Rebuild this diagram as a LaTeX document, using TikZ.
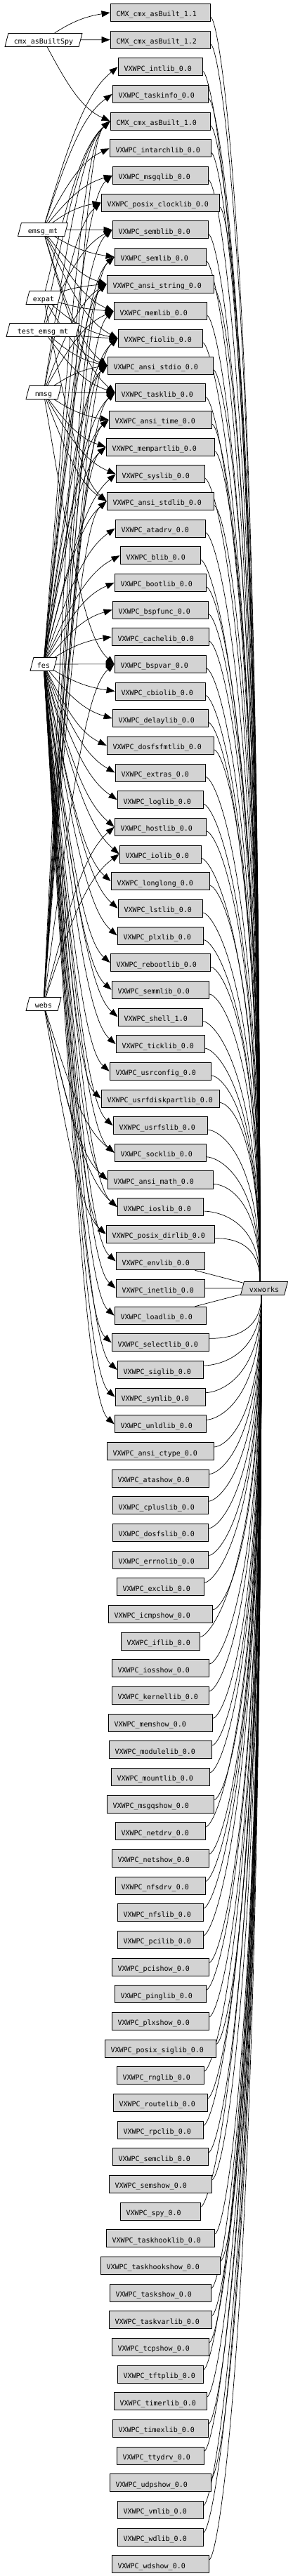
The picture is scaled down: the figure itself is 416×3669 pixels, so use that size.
\documentclass[tikz,border=0pt]{standalone}
\usepackage{fontspec}
\newfontfamily\pkgfont{DejaVu Sans Mono}
\usetikzlibrary{shapes.geometric, arrows.meta, calc}
\definecolor{boxgray}{RGB}{211,211,211}
\pgfdeclarelayer{back}
\pgfsetlayers{back,main}

\begin{document}
\begin{tikzpicture}[x=1pt, y=1pt,
  pkg/.style={draw, fill=boxgray, line width=0.8pt, minimum height=25pt, inner xsep=8.5pt, inner ysep=0pt,
    align=left, font=\pkgfont\fontsize{10}{12}\selectfont, text height=12pt, text depth=0pt},
  prog/.style={draw, fill=white, line width=0.8pt, trapezium, trapezium left angle=66, trapezium right angle=114,
    trapezium stretches body, minimum height=19pt, inner xsep=1pt, inner ysep=0pt,
    font=\pkgfont\fontsize{10}{12}\selectfont, text height=11pt, text depth=0pt},
  dep/.style={line width=0.7pt, -{Triangle[length=12pt,width=9pt]}},
  tovx/.style={line width=0.7pt}]
\useasboundingbox (0,0) rectangle (416,-3669);

% Programs (left) and the kernel (right)
\node[prog, minimum width=110pt] (cmxspy) at (62,-57) {cmx\_asBuiltSpy};
\node[prog, minimum width=71pt] (emsgmt) at (61,-327) {emsg\_mt};
\node[prog, minimum width=50pt] (expat) at (62,-424) {expat};
\node[prog, minimum width=104pt] (testemsg) at (61,-470) {test\_emsg\_mt};
\node[prog, minimum width=50pt] (nmsg) at (62,-559) {nmsg};
\node[prog, minimum width=38pt] (fes) at (62,-946) {fes};
\node[prog, minimum width=50pt] (webs) at (62,-1430) {webs};
\node[prog, fill=boxgray, minimum width=67pt] (vxworks) at (376,-1835) {vxworks};

% Packages, one per row, each tied to vxworks
\foreach \nm/\lbl/\w [count=\i] in {
  cmxA/CMX\_cmx\_asBuilt\_1.1/142, cmxB/CMX\_cmx\_asBuilt\_1.2/142, intlib/VXWPC\_intlib\_0.0/120,
  taskinfo/VXWPC\_taskinfo\_0.0/136, cmxC/CMX\_cmx\_asBuilt\_1.0/142, intarchlib/VXWPC\_intarchlib\_0.0/144,
  msgqlib/VXWPC\_msgqlib\_0.0/136, posixclock/VXWPC\_posix\_clocklib\_0.0/168, semblib/VXWPC\_semblib\_0.0/136,
  semlib/VXWPC\_semlib\_0.0/130, ansistring/VXWPC\_ansi\_string\_0.0/152, memlib/VXWPC\_memlib\_0.0/132,
  fiolib/VXWPC\_fiolib\_0.0/120, ansistdio/VXWPC\_ansi\_stdio\_0.0/150, tasklib/VXWPC\_tasklib\_0.0/128,
  ansitime/VXWPC\_ansi\_time\_0.0/146, mempartlib/VXWPC\_mempartlib\_0.0/154, syslib/VXWPC\_syslib\_0.0/126,
  ansistdlib/VXWPC\_ansi\_stdlib\_0.0/152, atadrv/VXWPC\_atadrv\_0.0/128, blib/VXWPC\_blib\_0.0/114,
  bootlib/VXWPC\_bootlib\_0.0/130, bspfunc/VXWPC\_bspfunc\_0.0/136, cachelib/VXWPC\_cachelib\_0.0/138,
  bspvar/VXWPC\_bspvar\_0.0/130, cbiolib/VXWPC\_cbiolib\_0.0/128, delaylib/VXWPC\_delaylib\_0.0/136,
  dosfsfmt/VXWPC\_dosfsfmtlib\_0.0/152, extras/VXWPC\_extras\_0.0/128, loglib/VXWPC\_loglib\_0.0/122,
  hostlib/VXWPC\_hostlib\_0.0/130, iolib/VXWPC\_iolib\_0.0/116, longlong/VXWPC\_longlong\_0.0/140,
  lstlib/VXWPC\_lstlib\_0.0/120, plxlib/VXWPC\_plxlib\_0.0/122, rebootlib/VXWPC\_rebootlib\_0.0/142,
  semmlib/VXWPC\_semmlib\_0.0/138, shell/VXWPC\_shell\_1.0/120, ticklib/VXWPC\_ticklib\_0.0/126,
  usrconfig/VXWPC\_usrconfig\_0.0/144, usrfdisk/VXWPC\_usrfdiskpartlib\_0.0/168, usrfslib/VXWPC\_usrfslib\_0.0/134,
  socklib/VXWPC\_socklib\_0.0/130, ansimath/VXWPC\_ansi\_math\_0.0/150, ioslib/VXWPC\_ioslib\_0.0/122,
  posixdir/VXWPC\_posix\_dirlib\_0.0/154, envlib/VXWPC\_envlib\_0.0/126, inetlib/VXWPC\_inetlib\_0.0/126,
  loadlib/VXWPC\_loadlib\_0.0/130, selectlib/VXWPC\_selectlib\_0.0/138, siglib/VXWPC\_siglib\_0.0/122,
  symlib/VXWPC\_symlib\_0.0/128, unldlib/VXWPC\_unldlib\_0.0/130, ansictype/VXWPC\_ansi\_ctype\_0.0/152,
  atashow/VXWPC\_atashow\_0.0/138, cpluslib/VXWPC\_cpluslib\_0.0/136, dosfslib/VXWPC\_dosfslib\_0.0/136,
  errnolib/VXWPC\_errnolib\_0.0/136, exclib/VXWPC\_exclib\_0.0/124, icmpshow/VXWPC\_icmpshow\_0.0/148,
  iflib/VXWPC\_iflib\_0.0/112, iosshow/VXWPC\_iosshow\_0.0/138, kernellib/VXWPC\_kernellib\_0.0/138,
  memshow/VXWPC\_memshow\_0.0/148, modulelib/VXWPC\_modulelib\_0.0/146, mountlib/VXWPC\_mountlib\_0.0/140,
  msgqshow/VXWPC\_msgqshow\_0.0/152, netdrv/VXWPC\_netdrv\_0.0/128, netshow/VXWPC\_netshow\_0.0/138,
  nfsdrv/VXWPC\_nfsdrv\_0.0/128, nfslib/VXWPC\_nfslib\_0.0/122, pcilib/VXWPC\_pcilib\_0.0/122,
  pcishow/VXWPC\_pcishow\_0.0/138, pinglib/VXWPC\_pinglib\_0.0/130, plxshow/VXWPC\_plxshow\_0.0/138,
  posixsig/VXWPC\_posix\_siglib\_0.0/158, rnglib/VXWPC\_rnglib\_0.0/124, routelib/VXWPC\_routelib\_0.0/134,
  rpclib/VXWPC\_rpclib\_0.0/122, semclib/VXWPC\_semclib\_0.0/136, semshow/VXWPC\_semshow\_0.0/146,
  spy/VXWPC\_spy\_0.0/114, taskhooklib/VXWPC\_taskhooklib\_0.0/154, taskhookshow/VXWPC\_taskhookshow\_0.0/170,
  taskshow/VXWPC\_taskshow\_0.0/144, taskvarlib/VXWPC\_taskvarlib\_0.0/146, tcpshow/VXWPC\_tcpshow\_0.0/138,
  tftplib/VXWPC\_tftplib\_0.0/122, timerlib/VXWPC\_timerlib\_0.0/132, timexlib/VXWPC\_timexlib\_0.0/136,
  ttydrv/VXWPC\_ttydrv\_0.0/124, udpshow/VXWPC\_udpshow\_0.0/144, vmlib/VXWPC\_vmlib\_0.0/122,
  wdlib/VXWPC\_wdlib\_0.0/122, wdshow/VXWPC\_wdshow\_0.0/138} {
  \pgfmathsetmacro\tw{\w-17}
  \pgfmathsetmacro\dd{0.8*abs(1835-18-(\i-1)*38.66)}
  \node[pkg, text width=\tw pt] (\nm) at (228,{-18-(\i-1)*38.66}) {\lbl};
  \begin{pgfonlayer}{back}
  \ifnum\i<47
    \draw[tovx] ([yshift=-6pt]\nm.east) .. controls +(14,0) and +(0,\dd) .. ([xshift=-6pt]vxworks.north);
  \else\ifnum\i<50
    \draw[tovx] (\nm) -- (vxworks);
  \else
    \draw[tovx] ([yshift=6pt]\nm.east) .. controls +(14,0) and +(0,-\dd) .. ([xshift=-4pt]vxworks.south);
  \fi\fi
  \end{pgfonlayer}
}

% Program dependencies
\begin{pgfonlayer}{back}
\foreach \src/\tgts in {
  cmxspy/{cmxA,cmxB,cmxC},
  emsgmt/{intlib,taskinfo,intarchlib,msgqlib,posixclock,semblib,semlib,ansistring,memlib,fiolib,ansistdio,tasklib},
  expat/{cmxC,ansistring,memlib,fiolib,ansistdio,ansistdlib},
  testemsg/{cmxC,semblib,fiolib,tasklib,ansistdio},
  nmsg/{cmxC,posixclock,ansistring,memlib,ansistdio,tasklib,ansitime,mempartlib,syslib,ansistdlib,bspvar},
  fes/{cmxC,msgqlib,semblib,semlib,ansistring,fiolib,ansistdio,tasklib,ansitime,mempartlib,syslib,ansistdlib,
    atadrv,blib,bootlib,bspfunc,cachelib,bspvar,cbiolib,delaylib,dosfsfmt,extras,loglib,hostlib,iolib,
    longlong,lstlib,plxlib,rebootlib,semmlib,shell,ticklib,usrconfig,usrfdisk,usrfslib,socklib,ansimath,
    ioslib,posixdir,envlib,inetlib,loadlib,selectlib,siglib,symlib,unldlib},
  webs/{cmxC,semlib,ansistring,memlib,fiolib,ansistdio,tasklib,ansitime,mempartlib,ansistdlib,bspvar,
    hostlib,iolib,socklib,ansimath,ioslib,posixdir}} {
  \foreach \tg in \tgts
    \draw[dep] let \p1=($(\tg.west)-(\src.center)$) in
      (\src) .. controls +({0.4*\x1},{0.62*\y1})
        and +({-0.4*\x1},{-min(abs(0.15*\y1),0.35*\x1)*sign(\y1)}) .. (\tg.west);
}
\end{pgfonlayer}
\end{tikzpicture}
\end{document}
